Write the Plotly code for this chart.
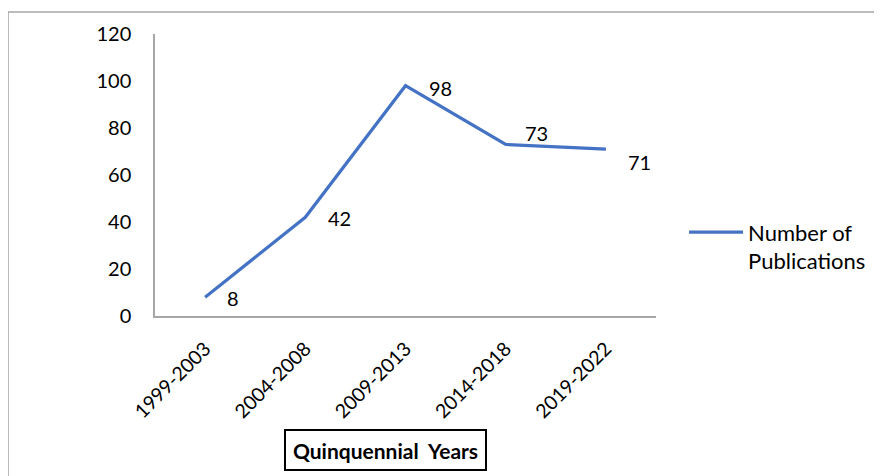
import plotly.graph_objects as go

periods = ["1999-2003", "2004-2008", "2009-2013", "2014-2018", "2019-2022"]
publications = [8, 42, 98, 73, 71]

# where each value label sits relative to its point (px), like Excel's placement
label_shift = [(28, -1), (34, -1), (35, -2), (31, 11), (34, -13)]

font = "Lato, 'Open Sans', sans-serif"

fig = go.Figure()
fig.add_trace(
    go.Scatter(
        x=periods,
        y=publications,
        mode="lines",
        name="Number of<br>Publications",
        line=dict(color="#4472C4", width=3.2),
    )
)

for period, value, (dx, dy) in zip(periods, publications, label_shift):
    fig.add_annotation(
        x=period, y=value, text=str(value), showarrow=False,
        xshift=dx, yshift=dy, font=dict(size=20, color="#000000"),
    )

# boxed axis title under the tick labels
fig.add_annotation(
    x=0.461, y=-0.476, xref="paper", yref="paper",
    xanchor="center", yanchor="middle",
    text="<b>Quinquennial  Years</b>", showarrow=False,
    width=197, height=36, borderwidth=2, bordercolor="#000000",
    font=dict(size=21, color="#000000"),
)

# chart area border (runs off the right and bottom edges)
fig.add_shape(
    type="rect", xref="paper", yref="paper",
    x0=-0.2934, y0=-0.6, x1=1.5, y1=1.078,
    line=dict(color="#A6A6A6", width=1.5),
)

# page body adds 8px offset, so margins are shifted to land the plot
# where the reference has it
fig.update_layout(
    width=882,
    height=476,
    margin=dict(l=147, r=234, t=26, b=168, autoexpand=False),
    plot_bgcolor="white",
    paper_bgcolor="white",
    font=dict(family=font, size=20, color="#000000"),
    showlegend=True,
    legend=dict(
        x=1.056, y=0.371, xanchor="left", yanchor="top", valign="top",
        itemwidth=54, font=dict(size=22), bgcolor="rgba(0,0,0,0)",
    ),
)

fig.update_xaxes(
    range=[-0.5, 4.5], showline=True, linecolor="#A6A6A6", linewidth=1.5,
    showgrid=False, tickangle=-45, ticks="", ticklabelstandoff=12,
    tickfont=dict(size=19.5),
)
fig.update_yaxes(
    range=[0, 120], dtick=20, showline=True, linecolor="#A6A6A6",
    linewidth=1.5, showgrid=False, zeroline=False, ticks="",
    ticklabelstandoff=18,
)

fig.write_html("out.html")
